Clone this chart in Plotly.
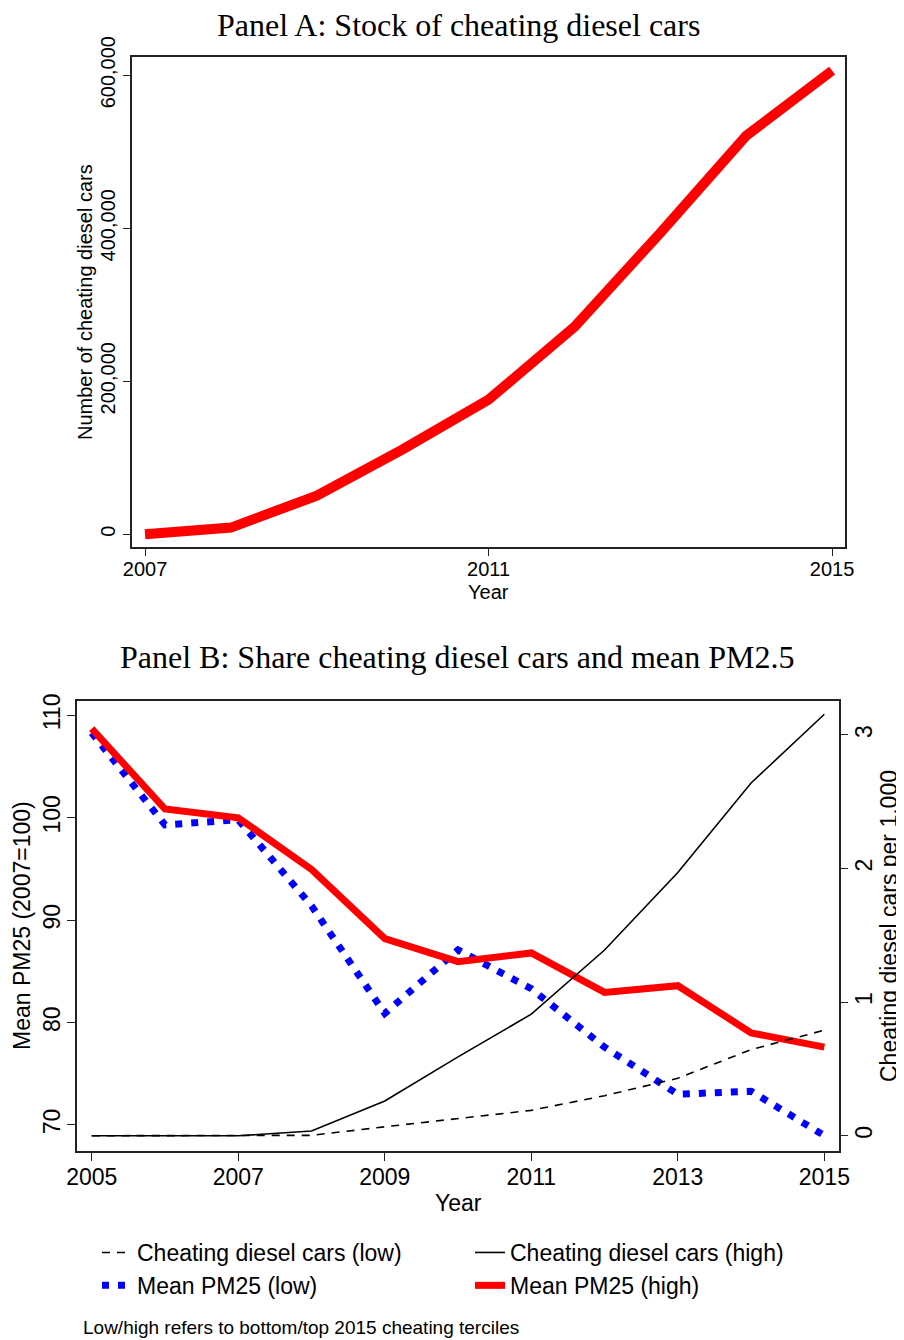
import plotly.graph_objects as go

# ---------------- data ----------------
years_a = [2007, 2008, 2009, 2010, 2011, 2012, 2013, 2014, 2015]
stock_cheating = [0, 8800, 50500, 111000, 176000, 271000, 394000, 521000, 606000]

years_b = [2005, 2006, 2007, 2008, 2009, 2010, 2011, 2012, 2013, 2014, 2015]
pm25_high = [108.7, 100.85, 100.0, 94.95, 88.2, 85.95, 86.8, 82.95, 83.6, 79.0, 77.6]
pm25_low = [108.3, 99.3, 99.8, 91.4, 80.9, 87.1, 83.3, 77.6, 73.0, 73.3, 68.96]
cars_high = [0, 0, 0, 0.035, 0.26, 0.59, 0.91, 1.39, 1.97, 2.64, 3.155]
cars_low = [0, 0, 0, 0.003, 0.067, 0.126, 0.19, 0.30, 0.43, 0.645, 0.79]

a_xticks = [2007, 2011, 2015]
a_yticks = [0, 200000, 400000, 600000]
b_xticks = [2005, 2007, 2009, 2011, 2013, 2015]
b_yticks_left = [70, 80, 90, 100, 110]
b_yticks_right = [0, 1, 2, 3]

W, H = 904, 1340
OFF = 8  # the page places the figure 8px in from the top-left corner


def px_x(p):
    return (p - OFF) / W


def px_y(p):
    return 1 - (p - OFF) / H


SANS = "Liberation Sans, Arial, Helvetica, sans-serif"
SERIF = "Liberation Serif, Times New Roman, serif"

fig = go.Figure()

# Panel A
fig.add_trace(go.Scatter(
    x=years_a, y=stock_cheating, mode="lines",
    line=dict(color="#ff0000", width=10),
    xaxis="x", yaxis="y", showlegend=False, hoverinfo="skip"))

# Panel B
fig.add_trace(go.Scatter(
    x=years_b, y=cars_low, mode="lines", name="Cheating diesel cars (low)",
    line=dict(color="black", width=1.6, dash="8px,7px"),
    xaxis="x2", yaxis="y3"))
fig.add_trace(go.Scatter(
    x=years_b, y=cars_high, mode="lines", name="Cheating diesel cars (high)",
    line=dict(color="black", width=1.6),
    xaxis="x2", yaxis="y3"))
fig.add_trace(go.Scatter(
    x=years_b, y=pm25_low, mode="lines", name="Mean PM25 (low)",
    line=dict(color="#0000ff", width=7, dash="7px,9px"),
    xaxis="x2", yaxis="y2"))
fig.add_trace(go.Scatter(
    x=years_b, y=pm25_high, mode="lines", name="Mean PM25 (high)",
    line=dict(color="#ff0000", width=7),
    xaxis="x2", yaxis="y2"))

axis_common = dict(showgrid=False, zeroline=False, showline=True,
                   linecolor="#222222", linewidth=1.6, mirror=True,
                   ticks="outside", tickcolor="#222222", tickwidth=1.2,
                   automargin=False)

fig.update_layout(
    width=W, height=H,
    margin=dict(l=0, r=0, t=0, b=0, pad=0, autoexpand=False),
    paper_bgcolor="white", plot_bgcolor="white",
    xaxis=dict(domain=[px_x(131.7), px_x(845)], range=[2006.845, 2015.15],
               anchor="y", tickvals=a_xticks, ticklen=7, ticklabelstandoff=-4,
               tickfont=dict(family=SANS, size=20, color="black"), **axis_common),
    yaxis=dict(domain=[px_y(547), px_y(57)], range=[-16600, 623800],
               anchor="x", tickvals=a_yticks, tickformat=",d", tickangle=-90,
               ticklen=7, tickfont=dict(family=SANS, size=20, color="black"),
               **axis_common),
    xaxis2=dict(domain=[px_x(76.7), px_x(839)], range=[2004.795, 2015.2],
                anchor="y2", tickvals=b_xticks, ticklen=8, ticklabelstandoff=-3,
                tickfont=dict(family=SANS, size=23, color="black"), **axis_common),
    yaxis2=dict(domain=[px_y(1150.7), px_y(701)], range=[67.49, 111.40],
                anchor="x2", tickvals=b_yticks_left, tickangle=-90, ticklen=8,
                ticklabelstandoff=-2,
                tickfont=dict(family=SANS, size=23, color="black"), **axis_common),
    yaxis3=dict(range=[-0.112, 3.254], overlaying="y2", side="right",
                anchor="x2", tickvals=b_yticks_right, tickangle=-90, ticklen=8,
                ticklabelstandoff=-4,
                showgrid=False, zeroline=False, showline=False, automargin=False,
                ticks="outside", tickcolor="#222222", tickwidth=1.2,
                tickfont=dict(family=SANS, size=23, color="black")),
    legend=dict(orientation="h", x=px_x(97), y=px_y(1231), xanchor="left",
                yanchor="top", entrywidth=328, entrywidthmode="pixels",
                font=dict(family=SANS, size=23, color="black"),
                bgcolor="rgba(0,0,0,0)", traceorder="normal"),
    showlegend=True,
)

annotations = [
    dict(text="Panel A: Stock of cheating diesel cars", x=px_x(458), y=px_y(25),
         font=dict(family=SERIF, size=32, color="black"), borderpad=0),
    dict(text="Panel B: Share cheating diesel cars and mean PM2.5", x=px_x(457),
         y=px_y(657), font=dict(family=SERIF, size=32, color="black")),
    dict(text="Number of cheating diesel cars", x=px_x(85), y=px_y(302),
         textangle=-90, font=dict(family=SANS, size=20, color="black")),
    dict(text="Year", x=px_x(488), y=px_y(592),
         font=dict(family=SANS, size=20, color="black")),
    dict(text="Mean PM25 (2007=100)", x=px_x(22), y=px_y(926),
         textangle=-90, font=dict(family=SANS, size=23, color="black")),
    dict(text="Cheating diesel cars per 1,000", x=px_x(889), y=px_y(926),
         textangle=-90, font=dict(family=SANS, size=23, color="black")),
    dict(text="Year", x=px_x(458), y=px_y(1203),
         font=dict(family=SANS, size=23, color="black")),
    dict(text="Low/high refers to bottom/top 2015 cheating terciles",
         x=px_x(81), y=px_y(1327), xanchor="left",
         font=dict(family=SANS, size=19, color="black")),
]
for a in annotations:
    a.setdefault("xanchor", "center")
    a.setdefault("yanchor", "middle")
    a.update(xref="paper", yref="paper", showarrow=False)
fig.update_layout(annotations=annotations)

fig.write_html("out.html")
